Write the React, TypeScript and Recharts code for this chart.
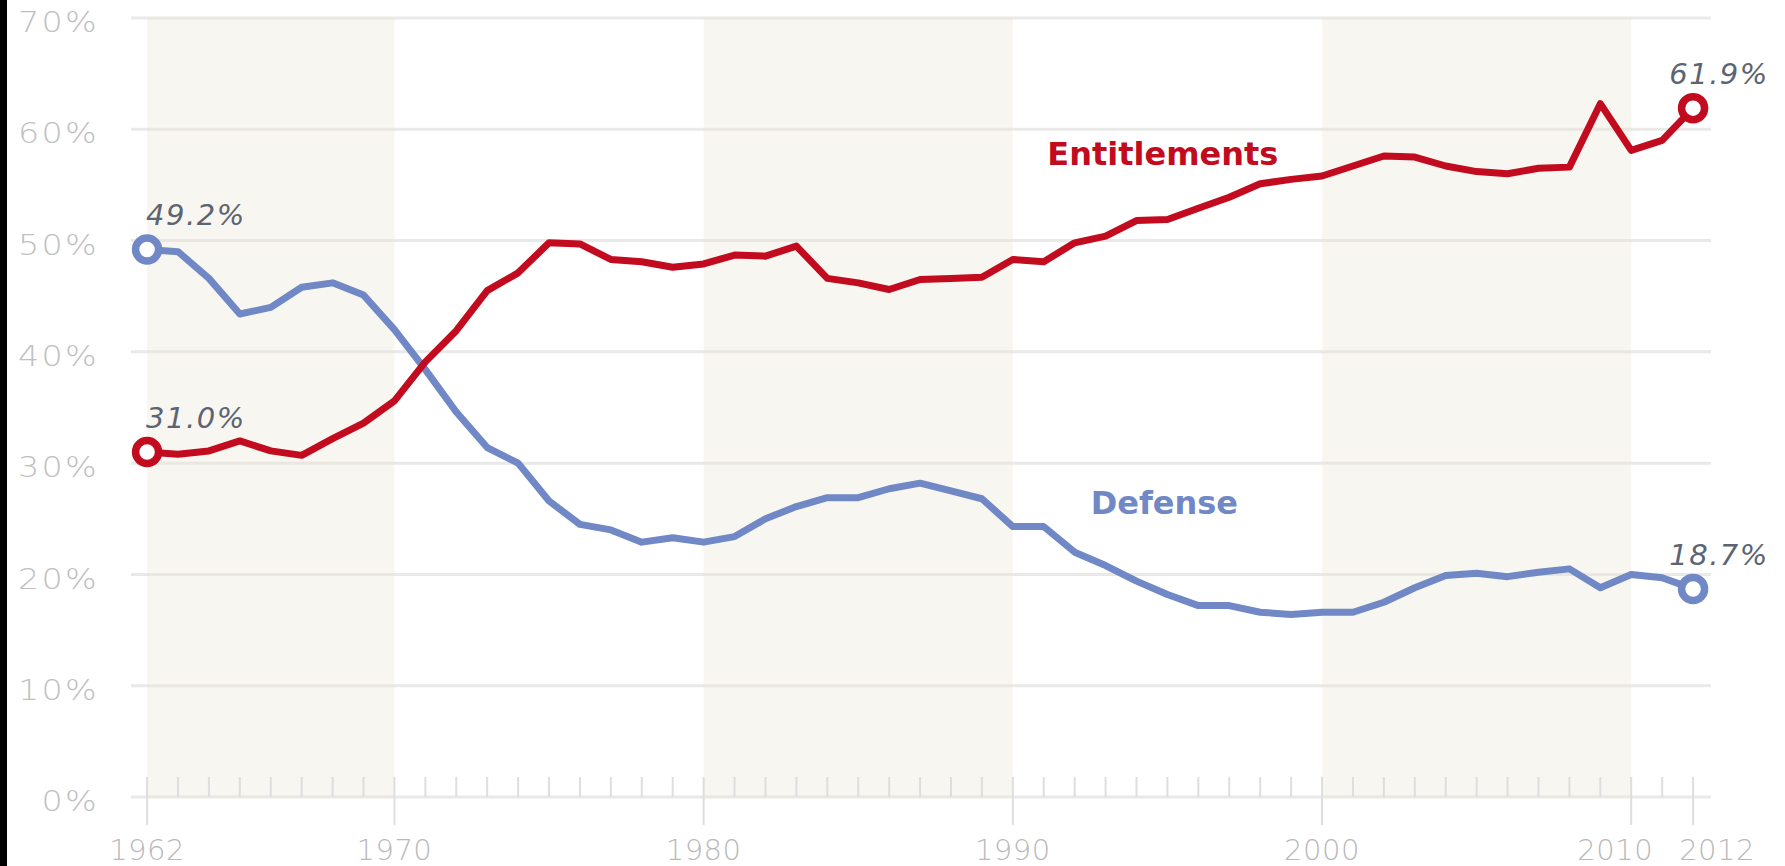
import React from 'react';
import { LineChart, Line, XAxis, YAxis, CartesianGrid, ReferenceArea, ReferenceDot } from 'recharts';

const years = [1962,1963,1964,1965,1966,1967,1968,1969,1970,1971,1972,1973,1974,1975,1976,1977,1978,1979,1980,1981,1982,1983,1984,1985,1986,1987,1988,1989,1990,1991,1992,1993,1994,1995,1996,1997,1998,1999,2000,2001,2002,2003,2004,2005,2006,2007,2008,2009,2010,2011,2012];

const entitlements = [31.0,30.8,31.1,32.0,31.1,30.7,32.2,33.6,35.6,39.1,41.9,45.5,47.1,49.8,49.7,48.3,48.1,47.6,47.9,48.7,48.6,49.5,46.6,46.2,45.6,46.5,46.6,46.7,48.3,48.1,49.8,50.4,51.8,51.9,52.9,53.9,55.1,55.5,55.8,56.7,57.6,57.5,56.7,56.2,56.0,56.5,56.6,62.3,58.1,59.0,61.9];

const defense = [49.2,49.0,46.6,43.4,44.0,45.8,46.2,45.1,42.0,38.4,34.6,31.4,30.0,26.6,24.5,24.0,22.9,23.3,22.9,23.4,25.0,26.1,26.9,26.9,27.7,28.2,27.5,26.8,24.3,24.3,22.0,20.8,19.4,18.2,17.2,17.2,16.6,16.4,16.6,16.6,17.5,18.8,19.9,20.1,19.8,20.2,20.5,18.8,20.0,19.7,18.7];

const yTicks = [0, 10, 20, 30, 40, 50, 60, 70];
const majorYears = [1962, 1970, 1980, 1990, 2000, 2010, 2012];
const labelShift: Record<number, number> = { 2010: -16, 2012: 24 };
const bands = [[1962, 1970], [1980, 1990], [2000, 2010]];

const data = years.map((y, i) => ({ year: y, entitlements: entitlements[i], defense: defense[i] }));

const RED = '#c20b1e';
const BLUE = '#7088c5';
const FONT = '"DejaVu Sans", sans-serif';
const last = years.length - 1;

const makeDot = (color: string) => (props: any) => {
  const { cx, cy, index } = props;
  if (index === 0 || index === last) {
    return <circle key={`d-${color}-${index}`} cx={cx} cy={cy} r={11.5} fill="#fff" stroke={color} strokeWidth={7.5} />;
  }
  return <g key={`d-${color}-${index}`} />;
};

const makeLabel = (props: any) => {
  const { x, y, index, value } = props;
  if (index !== 0 && index !== last) return <g key={`l-${index}-${x}`} />;
  const isStart = index === 0;
  return (
    <text
      key={`l-${index}-${x}`}
      x={isStart ? x - 1 : x + 26}
      y={y - 34}
      textAnchor={isStart ? 'start' : 'middle'}
      dominantBaseline="central"
      fill="#5c6472"
      fontFamily={FONT}
      fontStyle="italic"
      fontSize={29}
      letterSpacing={1.5}
    >
      {Number(value).toFixed(1)}%
    </text>
  );
};

const XTick = (props: any) => {
  const { x, y, payload } = props;
  const v = payload.value;
  const major = majorYears.includes(v);
  return (
    <g>
      <line x1={x} x2={x} y1={y - 20} y2={major ? y + 28 : y} stroke="#dedede" strokeWidth={2} />
      {major && (
        <text x={x + (labelShift[v] || 0)} y={y + 53} textAnchor="middle" dominantBaseline="central" fill="#b9b9b9" fontFamily={FONT} fontWeight={300} fontSize={29} letterSpacing={0.5}>
          {v}
        </text>
      )}
    </g>
  );
};

const YTick = (props: any) => {
  const { x, y, payload } = props;
  return (
    <text transform={`translate(${x},${y + 4}) scale(1.15,1)`} x={0} y={0} textAnchor="end" dominantBaseline="central" fill="#c0c0c0" fontFamily={FONT} fontWeight={300} fontSize={29} letterSpacing={2}>
      {`${payload.value}%`}
    </text>
  );
};

const SeriesLabel = (text: string, color: string) => (props: any) => {
  const vb = props.viewBox || {};
  const cx = (vb.x || 0) + (vb.width || 0) / 2;
  const cy = (vb.y || 0) + (vb.height || 0) / 2;
  return (
    <text x={cx} y={cy} textAnchor="middle" dominantBaseline="central" fill={color} fontFamily={FONT} fontWeight={700} fontSize={32}>
      {text}
    </text>
  );
};

export default function App() {
  return (
    <div style={{ position: 'absolute', left: 0, top: 0, width: 1785, height: 866, background: '#fff', overflow: 'hidden' }}>
      <div style={{ position: 'absolute', left: 0, top: 0, width: 7, height: 866, background: '#000' }} />
      <LineChart width={1785} height={866} data={data} margin={{ top: 18, right: 74, bottom: 0, left: 0 }}>
        <CartesianGrid horizontal vertical={false} stroke="#e9e9e7" strokeWidth={3} />
        {bands.map(([a, b]) => (
          <ReferenceArea key={a} x1={a} x2={b} y1={0} y2={70} fill="#e8e4cf" fillOpacity={0.32} stroke="none" ifOverflow="hidden" />
        ))}
        <XAxis
          dataKey="year"
          type="number"
          domain={[1961.48, 2012.58]}
          allowDataOverflow
          ticks={years}
          interval={0}
          tick={<XTick />}
          tickSize={0}
          tickMargin={0}
          tickLine={false}
          axisLine={false}
          height={69}
        />
        <YAxis
          domain={[0, 70]}
          ticks={yTicks}
          width={131}
          tickSize={0}
          tickMargin={32}
          tickLine={false}
          axisLine={false}
          tick={<YTick />}
        />
        <ReferenceDot x={1994.85} y={57.8} r={0} fill="none" stroke="none" label={SeriesLabel('Entitlements', RED)} />
        <ReferenceDot x={1994.9} y={26.4} r={0} fill="none" stroke="none" label={SeriesLabel('Defense', BLUE)} />
        <Line type="linear" dataKey="defense" stroke={BLUE} strokeWidth={7} strokeLinejoin="round" dot={makeDot(BLUE)} activeDot={false} label={makeLabel} isAnimationActive={false} />
        <Line type="linear" dataKey="entitlements" stroke={RED} strokeWidth={7} strokeLinejoin="round" dot={makeDot(RED)} activeDot={false} label={makeLabel} isAnimationActive={false} />
      </LineChart>
    </div>
  );
}
